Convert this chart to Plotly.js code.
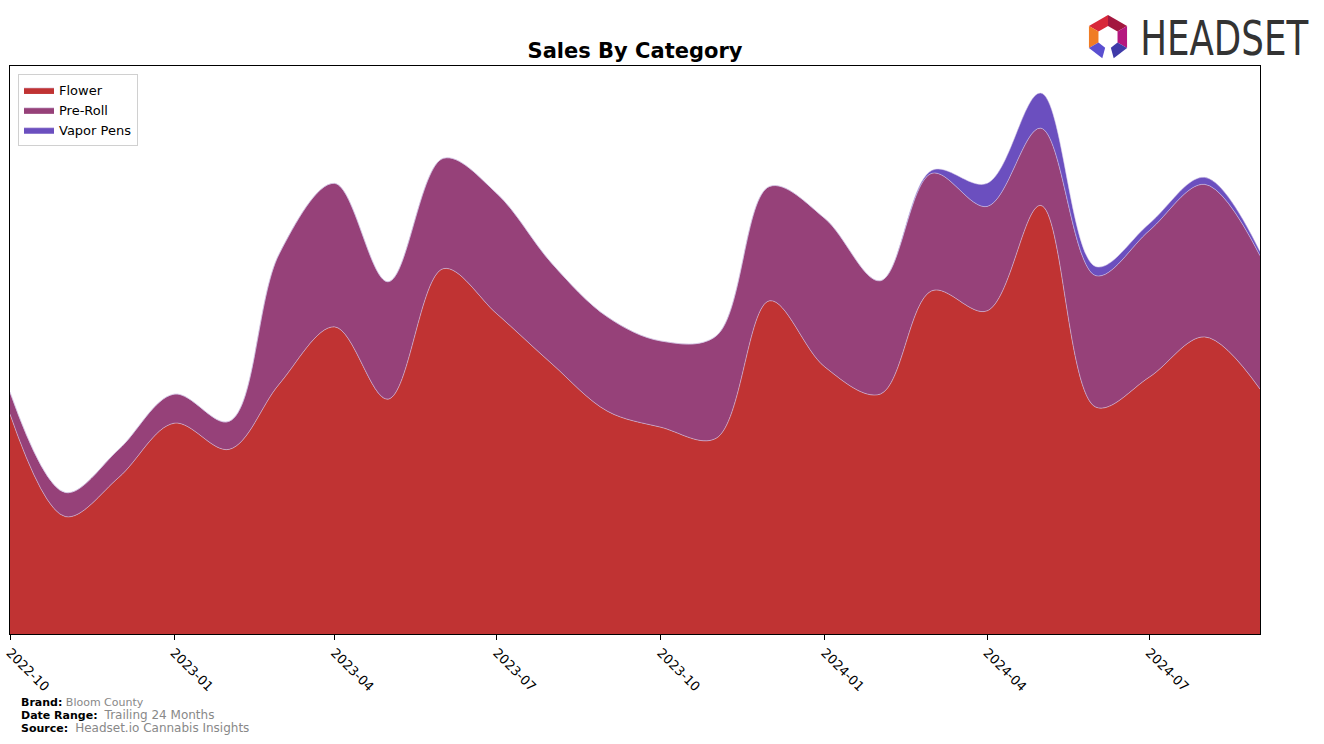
<!DOCTYPE html>
<html>
<head>
<meta charset="utf-8">
<script src="https://cdn.plot.ly/plotly-3.0.1.min.js"></script>
<style>
  html, body { margin: 0; padding: 0; background: #fff; }
  #plot { width: 1324px; height: 744px; }
</style>
</head>
<body>
<div id="plot"></div>
<script>
// monthly sales (arbitrary units)
let months = ["2022-10-01","2022-11-01","2022-12-01","2023-01-01","2023-02-01","2023-03-01",
  "2023-04-01","2023-05-01","2023-06-01","2023-07-01","2023-08-01","2023-09-01",
  "2023-10-01","2023-11-01","2023-12-01","2024-01-01","2024-02-01","2024-03-01",
  "2024-04-01","2024-05-01","2024-06-01","2024-07-01","2024-08-01","2024-09-01"];
let flower = [219,117,156,210,184,249,306,234,364,319,269,222,206,195,332,266,239,342,322,427,226,256,296,244];
let preRoll = [22,24,28,29,28,130,143,117,110,120,100,94,86,102,114,148,113,117,104,77,131,146,152,133];
let vaporPens = [0,0,0,0,0,0,0,0,0,0,0,0,0,0,0,0,0,3,23,35,9,7,7,4];
let tickVals = ["2022-10-01","2023-01-01","2023-04-01","2023-07-01","2023-10-01","2024-01-01","2024-04-01","2024-07-01"];

let totals = months.map((m, i) => flower[i] + preRoll[i] + vaporPens[i]);
let yMax = Math.max(...totals) * 1.05;

// pixel -> paper helpers for decorations (plot box 10..1260 x 66..634)
const px = v => (v - 10) / 1250;
const py = v => (634 - v) / 568;

let edge = {width: 0.6, color: "rgba(215,205,235,0.9)", shape: "spline", smoothing: 1};

let trace1 = {x: months, y: flower, name: "Flower", type: "scatter", mode: "lines",
  stackgroup: "one", fillcolor: "#c03333", line: edge};
let trace2 = {x: months, y: preRoll, name: "Pre-Roll", type: "scatter", mode: "lines",
  stackgroup: "one", fillcolor: "#964179", line: edge};
let trace3 = {x: months, y: vaporPens, name: "Vapor Pens", type: "scatter", mode: "lines",
  stackgroup: "one", fillcolor: "#6b4fbf", line: edge};

// logo: hexagon ring with the bottom open
function seg(a1, a2, rOut, rIn, col) {
  let cx = 1108, cy = 37;
  let p = a => [Math.cos(a * Math.PI / 180), -Math.sin(a * Math.PI / 180)];
  let [c1, s1] = p(a1), [c2, s2] = p(a2);
  let pts = [[cx + rOut * c1, cy + rOut * s1], [cx + rOut * c2, cy + rOut * s2],
             [cx + rIn * c2, cy + rIn * s2], [cx + rIn * c1, cy + rIn * s1]];
  let path = "M" + pts.map(q => px(q[0]) + "," + py(q[1])).join(" L") + " Z";
  return {type: "path", xref: "paper", yref: "paper", path: path, fillcolor: col, line: {width: 0}};
}
let shapes = [
  seg(150, 90, 22, 11, "#d8283a"),
  seg(90, 30, 22, 11, "#a3173f"),
  seg(210, 150, 22, 11, "#f07c24"),
  seg(30, -30, 22, 11, "#b5177f"),
  seg(-30, -75, 22, 11, "#3f3aa8"),
  seg(255, 210, 22, 11, "#5a4fd0")
];

let annotations = [
  {xref: "paper", yref: "paper", x: px(1224), y: py(38), xanchor: "center", yanchor: "middle",
   text: "HEADSET", showarrow: false,
   font: {family: "DejaVu Sans", size: 48, color: "#333333"}},
  {xref: "paper", yref: "paper", x: px(19), y: py(702), xanchor: "left", yanchor: "middle", showarrow: false,
   text: "<b>Brand:</b> <span style='color:#888888'>Bloom County</span>",
   font: {family: "DejaVu Sans", size: 11, color: "#000"}},
  {xref: "paper", yref: "paper", x: px(19), y: py(715), xanchor: "left", yanchor: "middle", showarrow: false,
   text: "<b>Date Range:</b>  <span style='color:#888888;font-size:12px'>Trailing 24 Months</span>",
   font: {family: "DejaVu Sans", size: 11, color: "#000"}},
  {xref: "paper", yref: "paper", x: px(19), y: py(728), xanchor: "left", yanchor: "middle", showarrow: false,
   text: "<b>Source:</b>  <span style='color:#888888;font-size:12px'>Headset.io Cannabis Insights</span>",
   font: {family: "DejaVu Sans", size: 11, color: "#000"}}
];

let layout = {
  width: 1324, height: 744,
  paper_bgcolor: "#fff", plot_bgcolor: "#fff",
  margin: {l: 10, r: 64, t: 66, b: 110, pad: 0},
  font: {family: "DejaVu Sans", size: 13, color: "#000"},
  title: {text: "<b>Sales By Category</b>", x: 0.5, xref: "paper", xanchor: "center",
    y: 1 - 51 / 744, yanchor: "middle", yref: "container",
    font: {family: "DejaVu Sans", size: 21, color: "#000"}},
  xaxis: {type: "date", range: [months[0], months[months.length - 1]],
    tickvals: tickVals, tickformat: "%Y-%m", tickangle: 45,
    ticks: "outside", ticklen: 5, tickcolor: "#000", tickfont: {size: 13},
    showgrid: false, zeroline: false, showline: true, linecolor: "#000", linewidth: 1, mirror: true},
  yaxis: {range: [0, yMax], showticklabels: false, ticks: "", showgrid: false, zeroline: false,
    showline: true, linecolor: "#000", linewidth: 1, mirror: true},
  showlegend: true,
  legend: {x: px(18), y: py(74), xanchor: "left", yanchor: "top", traceorder: "normal",
    bgcolor: "rgba(255,255,255,0.8)", bordercolor: "#d0d0d0", borderwidth: 1,
    font: {family: "DejaVu Sans", size: 13}, itemwidth: 30, tracegroupgap: 0},
  shapes: shapes,
  annotations: annotations
};

Plotly.newPlot("plot", [trace1, trace2, trace3], layout, {displayModeBar: false, staticPlot: true})
  .then(() => {
    // squeeze the wordmark to the narrow width it has in the logo
    document.querySelectorAll(".annotation-text").forEach(t => {
      if (t.textContent === "HEADSET") {
        t.setAttribute("textLength", "168");
        t.setAttribute("lengthAdjust", "spacingAndGlyphs");
      }
    });
  });
</script>
</body>
</html>
